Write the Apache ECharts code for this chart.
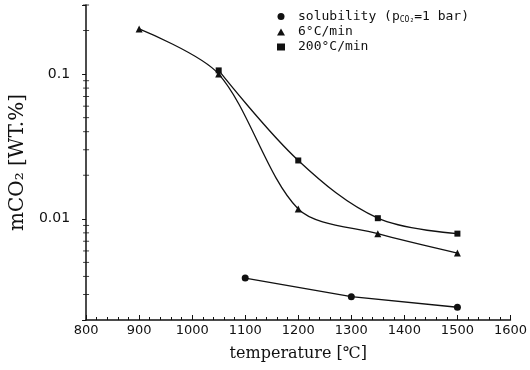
<!DOCTYPE html>
<html>
<head>
<meta charset="utf-8">
<script src="https://cdn.jsdelivr.net/npm/echarts@6/dist/echarts.min.js"></script>
<style>
  html, body { margin: 0; padding: 0; background: #fff; }
  #chart { width: 530px; height: 370px; }
</style>
</head>
<body>
<div id="chart"></div>
<script>
// solubility (pCO2 = 1 bar)
const solubilityT = [1100, 1300, 1500]
const solubilityCO2 = [0.0039, 0.0029, 0.00245]
// 6 °C/min
const slowT = [900, 1050, 1200, 1350, 1500]
const slowCO2 = [0.205, 0.1, 0.0117, 0.0079, 0.0058]
// 200 °C/min
const fastT = [1050, 1200, 1350, 1500]
const fastCO2 = [0.106, 0.0253, 0.0101, 0.0079]
// log minor tick values on the y axis
const yMinorTicks = [0.003, 0.004, 0.005, 0.006, 0.007, 0.008, 0.009,
  0.02, 0.03, 0.04, 0.05, 0.06, 0.07, 0.08, 0.09, 0.2, 0.3]
const yLabels = [0.1, 0.01]

const pairs = (xs, ys) => xs.map((x, i) => [x, ys[i]])

const chart = echarts.init(document.getElementById('chart'))

const lineStyle = { color: '#111', width: 1.3 }

chart.setOption({
  animation: false,
  backgroundColor: '#fff',
  grid: { left: 85, right: 15, top: 5, bottom: 50 },
  legend: {
    orient: 'vertical',
    left: 272,
    top: 5,
    itemWidth: 8,
    itemHeight: 7,
    itemGap: 2,
    data: [
      { name: 'solubility', icon: 'circle' },
      { name: '6°C/min', icon: 'triangle' },
      { name: '200°C/min', icon: 'rect' },
    ],
    formatter: (name) => name === 'solubility'
      ? '{t|solubility (p}{s|CO₂}{t|=1 bar)}'
      : '{t|' + name + '}',
    textStyle: {
      color: '#111',
      padding: [0, 0, 0, 8],
      rich: {
        t: { fontFamily: 'DejaVu Sans Mono', fontSize: 13, color: '#111' },
        s: { fontFamily: 'DejaVu Sans Mono', fontSize: 8, color: '#111', verticalAlign: 'bottom', padding: [6, 0, 0, 0] },
      },
    },
  },
  xAxis: {
    type: 'value',
    min: 800,
    max: 1600,
    interval: 100,
    name: 'temperature [℃]',
    nameLocation: 'middle',
    nameGap: 26,
    nameTextStyle: { fontFamily: 'DejaVu Serif', fontSize: 16, color: '#111' },
    axisLine: { lineStyle: { color: '#111', width: 1.5 } },
    axisTick: { inside: true, length: 5, lineStyle: { color: '#111' } },
    minorTick: { show: true, splitNumber: 5, length: 3, lineStyle: { color: '#111' } },
    splitLine: { show: false },
    axisLabel: {
      fontFamily: 'DejaVu Sans',
      fontSize: 13,
      color: '#111',
      margin: 4,
      formatter: (v) => String(v),
    },
  },
  yAxis: {
    type: 'log',
    min: 0.002,
    max: 0.3,
    name: 'mCO₂ [WT.%]',
    nameLocation: 'middle',
    nameGap: 58,
    nameTextStyle: { fontFamily: 'DejaVu Serif', fontSize: 20, color: '#111' },
    axisLine: { lineStyle: { color: '#111', width: 1.5 } },
    axisTick: { length: 4, lineStyle: { color: '#111' } },
    splitLine: { show: false },
    axisLabel: {
      fontFamily: 'DejaVu Sans',
      fontSize: 14,
      color: '#111',
      margin: 16,
      formatter: (v) => {
        const hit = yLabels.find((l) => Math.abs(Math.log10(v) - Math.log10(l)) < 1e-6)
        return hit !== undefined ? String(hit) : ''
      },
    },
  },
  series: [
    {
      name: 'solubility',
      type: 'line',
      data: pairs(solubilityT, solubilityCO2),
      symbol: 'circle',
      symbolSize: 7,
      itemStyle: { color: '#111' },
      lineStyle,
    },
    {
      name: '6°C/min',
      type: 'line',
      data: pairs(slowT, slowCO2),
      smooth: 0.3,
      symbol: 'triangle',
      symbolSize: 7,
      itemStyle: { color: '#111' },
      lineStyle,
    },
    {
      name: '200°C/min',
      type: 'line',
      data: pairs(fastT, fastCO2),
      smooth: 0.35,
      symbol: 'rect',
      symbolSize: 6,
      itemStyle: { color: '#111' },
      lineStyle,
    },
    {
      name: 'yMinor',
      type: 'scatter',
      silent: true,
      clip: false,
      data: yMinorTicks.map((v) => [800, v]),
      symbol: 'rect',
      symbolSize: [6, 1],
      itemStyle: { color: '#111' },
    },
  ],
})
</script>
</body>
</html>
